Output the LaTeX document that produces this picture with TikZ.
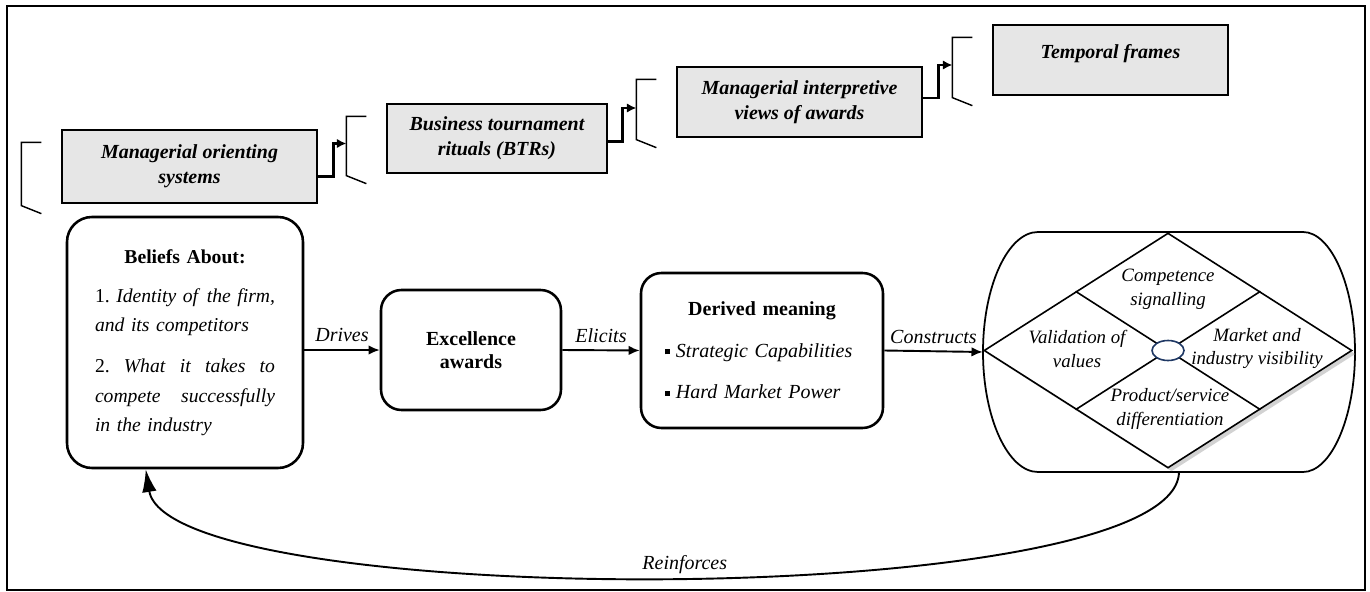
\documentclass[tikz,border=0pt]{standalone}
\usepackage{fontspec}
\setmainfont{Liberation Serif}
\usetikzlibrary{arrows.meta,calc,shapes.geometric,shadows}
\definecolor{boxgray}{RGB}{230,230,230}
\definecolor{ringblue}{RGB}{31,56,100}
\newcommand{\pxu}{0.022cm}
\newcommand{\sqbullet}{\raisebox{1.8pt}{\rule{3.4pt}{3.4pt}}\hspace{3.5pt}}
\newcommand{\sidebracket}[1]{%
  \draw[brace] ($(#1.north west)+(-20,13)$) -- ($(#1.north west)+(-40,13)$)
    -- ($(#1.south west)+(-40,2)$) -- ($(#1.south west)+(-20,10)$);}
\tikzset{
  graybox/.style={draw,fill=boxgray,line width=0.8pt,align=center,inner sep=0pt,
    font=\fontsize{12.5}{15.5}\selectfont\bfseries\itshape},
  roundbox/.style={draw,line width=1.6pt,inner sep=0pt},
  flow/.style={line width=1.2pt,-{Latex[length=7pt,width=6pt]}},
  stepline/.style={line width=1.7pt,-{Latex[length=6pt,width=6pt]}},
  brace/.style={line width=0.9pt},
  lbl/.style={font=\fontsize{12.5}{15}\selectfont\itshape},
  cell/.style={font=\fontsize{11.8}{15}\selectfont\itshape,align=center,inner sep=0pt}
}
\begin{document}
\begin{tikzpicture}[x=0.022cm,y=-0.022cm,every node/.style={font=\fontsize{12.5}{15}\selectfont}]
  \useasboundingbox (0,0) rectangle (1370,592);
  \draw [line width=1.4pt] (7,6) rectangle (1365,590);

  \node [graybox,minimum width=255*\pxu,minimum height=73*\pxu] (orient) at (189.5,166.5) {Managerial orienting\\systems};
  \node [graybox,minimum width=220*\pxu,minimum height=69*\pxu] (btr) at (497,138.5) {Business tournament\\rituals (BTRs)};
  \node [graybox,minimum width=245*\pxu,minimum height=70*\pxu] (interp) at (799.5,102) {Managerial interpretive\\views of awards};
  \node [graybox,minimum width=235*\pxu,minimum height=70*\pxu,text depth=11pt] (temporal) at (1110.5,60) {Temporal frames};

  \sidebracket{orient}
  \sidebracket{btr}
  \sidebracket{interp}
  \sidebracket{temporal}

  \coordinate (in2) at ($(btr.west)+(-40,5)$);
  \coordinate (in3) at ($(interp.west)+(-40,6)$);
  \coordinate (in4) at ($(temporal.west)+(-40,5)$);
  \draw [stepline] ($(orient.east)+(0,10)$) -- ++(16,0) |- (in2);
  \draw [stepline] ($(btr.east)+(0,3)$) -- ++(15,0) |- (in3);
  \draw [stepline] ($(interp.east)+(0,-4)$) -- ++(16,0) |- (in4);

  \node [roundbox,rounded corners=0.55cm,minimum width=236*\pxu,minimum height=251*\pxu,
    text width=3.96cm,align=left,font=\fontsize{12.3}{18.5}\selectfont] (beliefs) at (185,342.5)
    {\makebox[\linewidth]{\textbf{Beliefs About:}}\\[6pt]
     \makebox[\linewidth]{1.\hfill\textit{Identity}\hfill\textit{of}\hfill\textit{the}\hfill\textit{firm,}}\\
     \textit{and its competitors}\\[7pt]
     \makebox[\linewidth]{2.\hfill\textit{What}\hfill\textit{it}\hfill\textit{takes}\hfill\textit{to}}\\
     \makebox[\linewidth]{\textit{compete}\hfill\textit{successfully}}\\
     \textit{in the industry}};
  \node [roundbox,rounded corners=0.45cm,minimum width=180*\pxu,minimum height=120*\pxu,
    align=center,font=\fontsize{12.5}{14.5}\selectfont\bfseries] (excel) at (471,350) {Excellence\\awards};
  \node [roundbox,rounded corners=0.45cm,minimum width=242*\pxu,minimum height=155*\pxu,
    text width=4.27cm,align=left] (derived) at (762,350.5)
    {\makebox[\linewidth]{\textbf{Derived meaning}}\\[11pt]
     \sqbullet\textit{Strategic Capabilities}\\[11pt]
     \sqbullet\textit{Hard Market Power}};

  \node [minimum width=372*\pxu,minimum height=240*\pxu,inner sep=0pt] (oval) at (1169,352) {};
  \draw [line width=1.1pt] (1038,232) -- (1303,232)
    .. controls (1331,232) and (1355,286) .. (1355,352)
    .. controls (1355,418) and (1331,472) .. (1303,472) -- (1038,472)
    .. controls (1008,472) and (983,418) .. (983,352)
    .. controls (983,286) and (1008,232) .. (1038,232) -- cycle;
  \node [draw,diamond,fill=white,line width=1pt,inner sep=0pt,minimum width=368*\pxu,minimum height=235*\pxu,
    drop shadow={shadow xshift=2.2pt,shadow yshift=-2.2pt,fill=black!35}] (signal) at (1168,350.5) {};
  \draw [line width=1pt] ($(signal.north)!0.5!(signal.west)$) -- ($(signal.south)!0.5!(signal.east)$);
  \draw [line width=1pt] ($(signal.south)!0.5!(signal.west)$) -- ($(signal.north)!0.5!(signal.east)$);
  \node [draw=ringblue,ellipse,fill=white,line width=1pt,inner sep=0pt,
    minimum width=32*\pxu,minimum height=20*\pxu] (hub) at (signal.center) {};
  \node [cell] (compet) at (1168,289) {Competence\\signalling};
  \node [cell] (valid) at (1077,348.5) {Validation of\\values};
  \node [cell] (market) at (1257,348.5) {Market and\\industry visibility};
  \node [cell] (product) at (1170,408.5) {Product/service\\differentiation};

  \draw [flow] (beliefs.east |- excel.west) -- node[above,yshift=1pt,lbl] {Drives} (excel.west);
  \draw [flow] (excel.east) -- node[above,yshift=1pt,lbl] {Elicits} (derived.west);
  \draw [flow] (derived.east) -- node[above,yshift=1pt,lbl] {Constructs} (oval.west);
  \draw [line width=1.2pt,-{Latex[length=0.5cm,width=0.32cm]}] ($(oval.south)+(10,0)$)
    .. controls +(-4,140) and +(23,142) .. node[above,pos=0.49,inner sep=1pt,lbl] {Reinforces}
    ($(beliefs.south west)+(80,0)$);
\end{tikzpicture}
\end{document}
